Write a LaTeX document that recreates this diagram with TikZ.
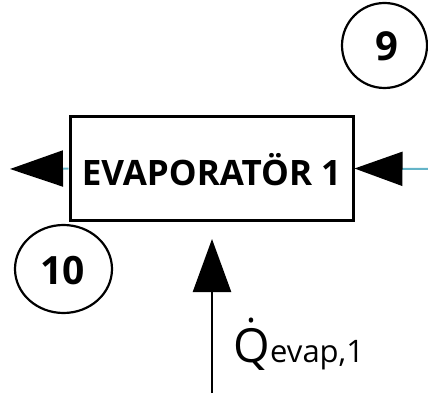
\documentclass[tikz,border=0pt]{standalone}
\usepackage{fontspec}
\setmainfont{Open Sans}
\usetikzlibrary{arrows.meta}
\definecolor{pipe}{RGB}{100,180,200}
\newcommand{\qdotted}{\ooalign{Q\cr\hidewidth\raisebox{0.2em}{˙}\hidewidth\cr}}
\begin{document}
\begin{tikzpicture}[x=1pt,y=-1pt,
  unit/.style={draw=black, line width=3pt, minimum width=283pt, minimum height=104pt, inner sep=0pt},
  pipeline/.style={draw=pipe, line width=2pt},
  bigtip/.style={-{Triangle[length=53pt,width=36pt,fill=black,color=black]}},
  heatflow/.style={draw=black, line width=2.5pt, -{Triangle[length=53pt,width=38pt,fill=black,color=black]}}
]
\useasboundingbox (0,0) rectangle (428,403);
\node[unit] (box) at (211.5,168.5) {};
\node[anchor=base, font=\fontsize{35}{35}\selectfont\bfseries] (lbl) at (211.5,185.5) {EVAPORATÖR 1};
% left outlet
\coordinate (lend) at (10,169);
\draw[pipeline, bigtip] (box.west) -- (lend);
% right inlet
\coordinate (rend) at (428,169);
\draw[pipeline, -{Triangle[length=48pt,width=34pt,fill=black,color=black]}] (rend) -- (box.east);
% heat input
\coordinate (qstart) at (212,393);
\coordinate (qend) at (212,239);
\draw[heatflow] (qstart) -- (qend);
\node[anchor=base west, inner sep=0pt, font=\fontsize{47}{47}\selectfont] (qlbl) at (233,362) {\qdotted};
\node[anchor=base west, inner sep=0pt, font=\fontsize{31}{31}\selectfont] (qsub) at (qlbl.base east) {evap,1};
% state circles
\draw[line width=2.2pt] (384.5,45.5) ellipse (42.5 and 42.5);
\node[font=\fontsize{40}{40}\selectfont\bfseries] (s9) at (386.5,46) {9};
\draw[line width=2.2pt] (63.5,269) ellipse (48.5 and 44);
\node[font=\fontsize{39}{39}\selectfont\bfseries] (s10) at (62.5,271) {10};
\end{tikzpicture}
\end{document}
